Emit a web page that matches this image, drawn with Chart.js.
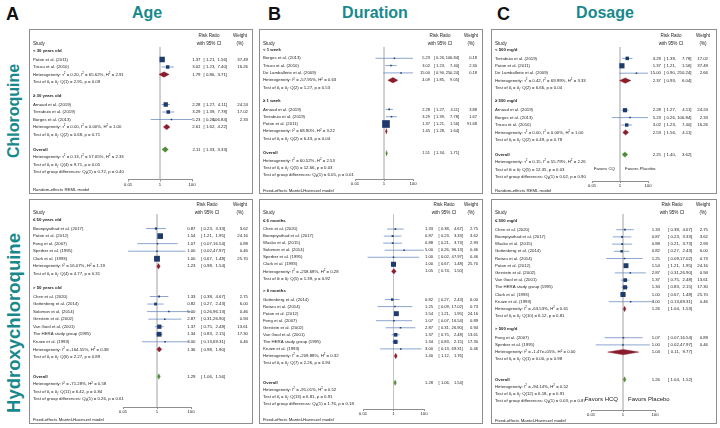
<!DOCTYPE html>
<html><head><meta charset="utf-8">
<script src="https://cdn.jsdelivr.net/npm/chart.js@4.4.0/dist/chart.umd.min.js"></script>
<style>
html,body{margin:0;padding:0;background:#fff;width:720px;height:428px;overflow:hidden;position:relative;font-family:"Liberation Sans",Arial,sans-serif;}
.letter{position:absolute;font-weight:bold;font-size:18px;line-height:18px;color:#111;}
.title{position:absolute;font-weight:bold;font-size:16px;line-height:16px;color:#17898c;transform:translateX(-50%);white-space:nowrap;}
.side{position:absolute;font-weight:bold;font-size:16px;line-height:16px;color:#17898c;transform:translate(-50%,-50%) rotate(-90deg);white-space:nowrap;}
canvas{position:absolute;}
</style></head><body>
<div class="letter" style="left:6px;top:5px">A</div>
<div class="title" style="left:147px;top:5px">Age</div>
<div class="letter" style="left:268px;top:5px">B</div>
<div class="title" style="left:375px;top:5px">Duration</div>
<div class="letter" style="left:497px;top:5px">C</div>
<div class="title" style="left:605px;top:5px">Dosage</div>
<div class="side" style="left:14px;top:111px">Chloroquine</div>
<div class="side" style="left:14px;top:323px;font-size:18.5px;line-height:18.5px">Hydroxychloroquine</div>
<canvas id="p1"></canvas><canvas id="p2"></canvas><canvas id="p3"></canvas>
<canvas id="p4"></canvas><canvas id="p5"></canvas><canvas id="p6"></canvas>
<script>
// ---------- shared axis ticks ----------
const tickValues = [0.01, 1, 100];
const tickLabels = ['0.01', '1', '100'];

// ---------- Chloroquine / Age ----------
const cqAgeStudy = ['Paton et al. (2011)', 'Tricou et al. (2010)', 'Arnaud et al. (2019)', 'Terrabuio et al. (2019)', 'Borges et al. (2013)'];
const cqAgeGroup = [0, 0, 1, 1, 1];
const cqAgeRR = [1.37, 3.02, 2.28, 3.29, 5.23];
const cqAgeLo = [1.21, 1.23, 1.27, 1.39, 0.26];
const cqAgeHi = [1.56, 7.40, 4.11, 7.78, 106.84];
const cqAgeWt = [37.49, 16.26, 24.24, 17.02, 2.33];
const cqAgeSub = ['< 30 years old', '\u2265 30 years old'];
const cqAgeSubRR = [1.79, 2.61];
const cqAgeSubLo = [0.86, 1.62];
const cqAgeSubHi = [3.71, 4.22];
const cqAgeSubHet = ['Heterogeneity: \u03c4^2 = 0.20, I^2 = 65.62%, H^2 = 2.91', 'Heterogeneity: \u03c4^2 = 0.00, I^2 = 0.00%, H^2 = 1.00'];
const cqAgeSubTest = ['Test of \u03b8_i = \u03b8_j: Q(1) = 2.91, p = 0.09', 'Test of \u03b8_i = \u03b8_j: Q(2) = 0.68, p = 0.71'];
const cqAgeOverall = [2.11, 1.33, 3.33];
const cqAgeOverallText = ['Heterogeneity: \u03c4^2 = 0.13, I^2 = 57.05%, H^2 = 2.33', 'Test of \u03b8_i = \u03b8_j: Q(4) = 9.71, p = 0.05', 'Test of group differences: Q_b(1) = 0.72, p = 0.40'];
const cqAgeModel = 'Random-effects REML model';

// ---------- Chloroquine / Duration ----------
const cqDurStudy = ['Borges et al. (2013)', 'Tricou et al. (2010)', 'De Lamballerie et al. (2009)', 'Arnaud et al. (2019)', 'Terrabuio et al. (2019)', 'Paton et al. (2011)'];
const cqDurGroup = [0, 0, 0, 1, 1, 1];
const cqDurRR = [5.23, 3.02, 15.00, 2.28, 3.29, 1.37];
const cqDurLo = [0.26, 1.23, 0.90, 1.27, 1.39, 1.21];
const cqDurHi = [106.84, 7.40, 250.24, 4.11, 7.78, 1.56];
const cqDurWt = [0.18, 2.30, 0.18, 3.88, 1.67, 91.68];
const cqDurSub = ['< 1 week', '\u2265 1 week'];
const cqDurSubRR = [4.09, 1.45];
const cqDurSubLo = [1.85, 1.28];
const cqDurSubHi = [9.05, 1.64];
const cqDurSubHet = ['Heterogeneity: I^2 = -57.95%, H^2 = 0.63', 'Heterogeneity: I^2 = 68.90%, H^2 = 3.22'];
const cqDurSubTest = ['Test of \u03b8_i = \u03b8_j: Q(2) = 1.27, p = 0.53', 'Test of \u03b8_i = \u03b8_j: Q(2) = 6.43, p = 0.04'];
const cqDurOverall = [1.51, 1.34, 1.71];
const cqDurOverallText = ['Heterogeneity: I^2 = 60.52%, H^2 = 2.53', 'Test of \u03b8_i = \u03b8_j: Q(5) = 12.66, p = 0.03', 'Test of group differences: Q_b(1) = 6.05, p = 0.01'];
const cqDurModel = 'Fixed-effects Mantel-Haenszel model';

// ---------- Chloroquine / Dosage ----------
const cqDoseStudy = ['Terrabuio et al. (2019)', 'Paton et al. (2011)', 'De Lamballerie et al. (2009)', 'Arnaud et al. (2019)', 'Borges et al. (2013)', 'Tricou et al. (2010)'];
const cqDoseGroup = [0, 0, 0, 1, 1, 1];
const cqDoseRR = [3.29, 1.37, 15.00, 2.28, 5.23, 3.02];
const cqDoseLo = [1.39, 1.21, 0.90, 1.27, 0.26, 1.23];
const cqDoseHi = [7.78, 1.56, 250.24, 4.11, 106.84, 7.40];
const cqDoseWt = [17.02, 37.49, 2.66, 24.24, 2.33, 16.26];
const cqDoseSub = ['< 500 mg/d', '\u2265 500 mg/d'];
const cqDoseSubRR = [2.37, 2.53];
const cqDoseSubLo = [0.93, 1.56];
const cqDoseSubHi = [6.04, 4.11];
const cqDoseSubHet = ['Heterogeneity: \u03c4^2 = 0.42, I^2 = 69.99%, H^2 = 3.33', 'Heterogeneity: \u03c4^2 = 0.00, I^2 = 0.00%, H^2 = 1.00'];
const cqDoseSubTest = ['Test of \u03b8_i = \u03b8_j: Q(2) = 6.66, p = 0.04', 'Test of \u03b8_i = \u03b8_j: Q(2) = 0.49, p = 0.78'];
const cqDoseOverall = [2.25, 1.40, 3.62];
const cqDoseOverallText = ['Heterogeneity: \u03c4^2 = 0.15, I^2 = 55.79%, H^2 = 2.26', 'Test of \u03b8_i = \u03b8_j: Q(5) = 12.35, p = 0.03', 'Test of group differences: Q_b(1) = 0.02, p = 0.90'];
const cqDoseModel = 'Random-effects REML model';
const cqDoseFavors = ['Favors CQ', 'Favors Placebo'];

// ---------- Hydroxychloroquine / Age ----------
const hcqAgeStudy = ['Boonpiyathad et al. (2017)', 'Paton et al. (2012)', 'Fong et al. (2007)', 'Sperber et al. (1995)', 'Clark et al. (1993)',
  'Chen et al. (2020)', 'Gottenberg et al. (2014)', 'Solomon et al. (2014)', 'Gerstein et al. (2002)', 'Van Gool et al. (2001)', 'The HERA study group (1995)', 'Kruize et al. (1993)'];
const hcqAgeGroup = [0, 0, 0, 0, 0, 1, 1, 1, 1, 1, 1, 1];
const hcqAgeRR = [0.87, 1.54, 1.07, 1.00, 1.00, 1.33, 0.82, 5.00, 2.87, 1.37, 1.34, 3.00];
const hcqAgeLo = [0.23, 1.21, 0.07, 0.02, 0.67, 0.38, 0.27, 0.26, 0.31, 0.75, 0.83, 0.13];
const hcqAgeHi = [3.33, 1.95, 16.54, 47.97, 1.48, 4.67, 2.43, 96.13, 26.90, 2.48, 2.15, 69.31];
const hcqAgeWt = [3.62, 24.16, 0.89, 0.46, 25.70, 2.75, 6.00, 0.46, 0.94, 13.61, 17.30, 0.46];
const hcqAgeSub = ['\u2264 50 years old', '> 50 years old'];
const hcqAgeSubRR = [1.23, 1.36];
const hcqAgeSubLo = [0.98, 0.98];
const hcqAgeSubHi = [1.54, 1.90];
const hcqAgeSubHet = ['Heterogeneity: I^2 = 16.07%, H^2 = 1.19', 'Heterogeneity: I^2 = -164.55%, H^2 = 0.38'];
const hcqAgeSubTest = ['Test of \u03b8_i = \u03b8_j: Q(4) = 4.77, p = 0.31', 'Test of \u03b8_i = \u03b8_j: Q(6) = 2.27, p = 0.89'];
const hcqAgeOverall = [1.29, 1.06, 1.56];
const hcqAgeOverallText = ['Heterogeneity: I^2 = -71.28%, H^2 = 0.58', 'Test of \u03b8_i = \u03b8_j: Q(11) = 6.42, p = 0.84', 'Test of group differences: Q_b(1) = 0.26, p = 0.61'];
const hcqAgeModel = 'Fixed-effects Mantel-Haenszel model';

// ---------- Hydroxychloroquine / Duration ----------
const hcqDurStudy = ['Chen et al. (2020)', 'Boonpiyathad et al. (2017)', 'Wasko et al. (2015)', 'Solomon et al. (2014)', 'Sperber et al. (1995)', 'Clark et al. (1993)',
  'Gottenberg et al. (2014)', 'Rotaru et al. (2014)', 'Paton et al. (2012)', 'Fong et al. (2007)', 'Gerstein et al. (2002)', 'Van Gool et al. (2001)', 'The HERA study group (1995)', 'Kruize et al. (1993)'];
const hcqDurGroup = [0, 0, 0, 0, 0, 0, 1, 1, 1, 1, 1, 1, 1, 1];
const hcqDurRR = [1.33, 0.87, 0.88, 5.00, 1.00, 1.00, 0.82, 1.25, 1.54, 1.07, 2.87, 1.37, 1.34, 3.00];
const hcqDurLo = [0.38, 0.23, 0.21, 0.26, 0.02, 0.67, 0.27, 0.09, 1.21, 0.07, 0.31, 0.75, 0.83, 0.13];
const hcqDurHi = [4.67, 3.33, 3.73, 96.13, 47.97, 1.48, 2.43, 17.02, 1.95, 16.54, 26.90, 2.48, 2.15, 69.31];
const hcqDurWt = [2.75, 3.62, 2.93, 0.46, 0.46, 25.70, 6.00, 0.73, 24.16, 0.89, 0.94, 13.61, 17.30, 0.46];
const hcqDurSub = ['\u2264 6 months', '> 6 months'];
const hcqDurSubRR = [1.05, 1.40];
const hcqDurSubLo = [0.74, 1.12];
const hcqDurSubHi = [1.50, 1.76];
const hcqDurSubHet = ['Heterogeneity: I^2 = -258.68%, H^2 = 0.28', 'Heterogeneity: I^2 = -209.88%, H^2 = 0.32'];
const hcqDurSubTest = ['Test of \u03b8_i = \u03b8_j: Q(5) = 1.39, p = 0.92', 'Test of \u03b8_i = \u03b8_j: Q(7) = 2.26, p = 0.94'];
const hcqDurOverall = [1.28, 1.06, 1.54];
const hcqDurOverallText = ['Heterogeneity: I^2 = -91.01%, H^2 = 0.52', 'Test of \u03b8_i = \u03b8_j: Q(13) = 6.81, p = 0.91', 'Test of group differences: Q_b(1) = 1.76, p = 0.18'];
const hcqDurModel = 'Fixed-effects Mantel-Haenszel model';

// ---------- Hydroxychloroquine / Dosage ----------
const hcqDoseStudy = ['Chen et al. (2020)', 'Boonpiyathad et al. (2017)', 'Wasko et al. (2015)', 'Gottenberg et al. (2014)', 'Rotaru et al. (2014)', 'Paton et al. (2012)',
  'Gerstein et al. (2002)', 'Van Gool et al. (2001)', 'The HERA study group (1995)', 'Clark et al. (1993)', 'Kruize et al. (1993)', 'Fong et al. (2007)', 'Sperber et al. (1995)'];
const hcqDoseGroup = [0, 0, 0, 0, 0, 0, 0, 0, 0, 0, 0, 1, 1];
const hcqDoseRR = [1.33, 0.87, 0.88, 0.82, 1.25, 1.54, 2.87, 1.37, 1.34, 1.00, 3.00, 1.07, 1.00];
const hcqDoseLo = [0.38, 0.23, 0.21, 0.27, 0.09, 1.21, 0.31, 0.75, 0.83, 0.67, 0.13, 0.07, 0.02];
const hcqDoseHi = [4.67, 3.33, 3.73, 2.43, 17.02, 1.95, 26.90, 2.48, 2.15, 1.48, 69.31, 16.54, 47.97];
const hcqDoseWt = [2.75, 3.62, 2.93, 6.00, 0.73, 24.16, 0.94, 13.61, 17.30, 25.70, 0.46, 0.89, 0.46];
const hcqDoseSub = ['\u2264 500 mg/d', '> 500 mg/d'];
const hcqDoseSubRR = [1.26, 1.04];
const hcqDoseSubLo = [1.04, 0.11];
const hcqDoseSubHi = [1.53, 9.77];
const hcqDoseSubHet = ['Heterogeneity: I^2 = -63.53%, H^2 = 0.61', 'Heterogeneity: I^2 = -1.47e+05%, H^2 = 0.00'];
const hcqDoseSubTest = ['Test of \u03b8_i = \u03b8_j: Q(10) = 6.12, p = 0.81', 'Test of \u03b8_i = \u03b8_j: Q(1) = 0.00, p = 0.98'];
const hcqDoseOverall = [1.26, 1.04, 1.52];
const hcqDoseOverallText = ['Heterogeneity: I^2 = -94.14%, H^2 = 0.52', 'Test of \u03b8_i = \u03b8_j: Q(12) = 6.18, p = 0.91', 'Test of group differences: Q_b(1) = 0.03, p = 0.87'];
const hcqDoseModel = 'Fixed-effects Mantel-Haenszel model';
const hcqDoseFavors = ['Favors HCQ', 'Favors Placebo'];

// ---------- drawing ----------
const FONT = '"Liberation Sans", Arial, sans-serif';
const TXT = '#1c1c1c';
const SQ = '#1d3b6c', CI = '#5a80ba', SUBD = '#8a1c2c', OVD = '#4f8a34', REF = '#c4c4c4';

function rich(ctx, s, x, y, size) {
  let cx = x, buf = '';
  const flush = () => { if (buf) { ctx.font = size + 'px ' + FONT; ctx.fillText(buf, cx, y); cx += ctx.measureText(buf).width; buf = ''; } };
  for (let k = 0; k < s.length; k++) {
    const c = s[k];
    if ((c === '^' || c === '_') && k + 1 < s.length) {
      flush();
      const t = s[k + 1]; k++;
      ctx.font = (size * 0.68) + 'px ' + FONT;
      ctx.fillText(t, cx, y + (c === '^' ? -size * 0.32 : size * 0.28));
      cx += ctx.measureText(t).width;
    } else buf += c;
  }
  flush();
}

function buildPanel(id, L, D) {
  const W = L.R - L.L, H = L.B - L.T;
  const cv = document.getElementById(id);
  cv.width = W; cv.height = H;
  cv.style.left = L.L + 'px'; cv.style.top = L.T + 'px';
  cv.style.width = W + 'px'; cv.style.height = H + 'px';
  const rows = []; let r = 0;
  D.sub.forEach((lab, g) => {
    rows.push({type: 'label', text: lab, row: r + L.labelShift}); r++;
    D.study.forEach((s, i) => { if (D.group[i] === g) { rows.push({type: 'study', i, row: r}); r++; } });
    rows.push({type: 'het', g, row: r}); r++;
    rows.push({type: 'test', g, row: r}); r++;
    r++;
  });
  r += L.overallGap;
  rows.push({type: 'overall', row: r}); r++;
  rows.push({type: 'otext', k: 0, row: r}); r++;
  rows.push({type: 'otext', k: 1, row: r}); r++;
  rows.push({type: 'otext', k: 2, row: r});
  const yMin = (L.refTop - L.y0) / L.step, yMax = (L.axisY - L.y0) / L.step;
  const dh = L.dh / L.step;

  const studyRows = rows.filter(o => o.type === 'study');
  const ciData = [];
  studyRows.forEach(o => { ciData.push({x: D.lo[o.i], y: o.row}, {x: D.hi[o.i], y: o.row}, {x: null, y: null}); });
  const sqData = studyRows.map(o => ({x: D.rr[o.i], y: o.row, w: D.wt[o.i]}));
  const datasets = [
    {type: 'scatter', showLine: true, data: [{x: 1, y: yMin}, {x: 1, y: yMax}], borderColor: REF, borderWidth: 0.8, pointRadius: 0, order: 10},
    {type: 'scatter', showLine: true, data: ciData, borderColor: CI, borderWidth: 0.7, pointRadius: 0, spanGaps: false, order: 5},
    {type: 'scatter', data: sqData, pointStyle: 'rect', backgroundColor: SQ, borderWidth: 0, order: 1,
      pointRadius: c => Math.max(1.5, L.k * Math.sqrt(c.raw.w)) / Math.SQRT2}
  ];
  const diamond = (rr, lo, hi, row, col) => ({
    type: 'scatter', showLine: true, fill: 'shape', backgroundColor: col, borderColor: col, borderWidth: 0.4, pointRadius: 0, order: 0,
    data: [{x: lo, y: row}, {x: rr, y: row - dh}, {x: hi, y: row}, {x: rr, y: row + dh}, {x: lo, y: row}]
  });
  rows.filter(o => o.type === 'het').forEach(o => datasets.push(diamond(D.subRR[o.g], D.subLo[o.g], D.subHi[o.g], o.row, SUBD)));
  const ov = rows.find(o => o.type === 'overall');
  datasets.push(diamond(D.overall[0], D.overall[1], D.overall[2], ov.row, OVD));

  const axisH = 9;
  const lx = v => v - L.L, ly = v => v - L.T;
  const fs = L.fs, hfs = L.hfs, vfs = L.vfs || L.fs;

  const txtPlugin = {
    id: 'txt_' + id,
    afterDraw(chart) {
      const ctx = chart.ctx, ys = chart.scales.y;
      const Y = row => ys.getPixelForValue(row);
      ctx.save();
      ctx.fillStyle = TXT; ctx.textBaseline = 'middle';
      ctx.font = hfs + 'px ' + FONT;
      ctx.textAlign = 'left'; ctx.fillText('Study', lx(L.L + L.tx), ly(L.hdrY2));
      ctx.textAlign = 'center';
      ctx.fillText('Risk Ratio', lx(L.hdrRR), ly(L.hdrY1));
      ctx.fillText('with 95% CI', lx(L.hdrRR), ly(L.hdrY2));
      ctx.fillText('Weight', lx(L.hdrW), ly(L.hdrY1));
      ctx.fillText('(%)', lx(L.hdrW), ly(L.hdrY2));
      const vals = (rr, lo, hi, y) => {
        ctx.font = vfs + 'px ' + FONT; ctx.textAlign = 'right';
        ctx.fillText(rr.toFixed(2), lx(L.estR), y);
        ctx.fillText('[ ' + lo.toFixed(2) + ',', lx(L.loR), y);
        ctx.fillText(hi.toFixed(2) + ']', lx(L.hiR), y);
      };
      const x0 = lx(L.L + L.tx);
      rows.forEach(o => {
        const y = Y(o.row);
        if (o.type === 'label' || o.type === 'overall') {
          ctx.font = 'bold ' + fs + 'px ' + FONT; ctx.textAlign = 'left';
          ctx.fillText(o.type === 'label' ? o.text : 'Overall', x0, y);
          if (o.type === 'overall') vals(D.overall[0], D.overall[1], D.overall[2], y);
        } else if (o.type === 'study') {
          ctx.font = fs + 'px ' + FONT; ctx.textAlign = 'left';
          ctx.fillText(D.study[o.i], x0, y);
          vals(D.rr[o.i], D.lo[o.i], D.hi[o.i], y);
          ctx.textAlign = 'right'; ctx.fillText(D.wt[o.i].toFixed(2), lx(L.wR), y);
        } else if (o.type === 'het') {
          ctx.textAlign = 'left'; rich(ctx, D.subHet[o.g], x0, y, fs);
          vals(D.subRR[o.g], D.subLo[o.g], D.subHi[o.g], y);
        } else if (o.type === 'test') {
          ctx.textAlign = 'left'; rich(ctx, D.subTest[o.g], x0, y, fs);
        } else if (o.type === 'otext') {
          ctx.textAlign = 'left'; rich(ctx, D.overallText[o.k], x0, y, fs);
        }
      });
      ctx.font = fs + 'px ' + FONT; ctx.textAlign = 'left';
      ctx.fillText(D.model, x0, ly(L.modelY));
      if (D.favors) {
        ctx.font = L.ffs + 'px ' + FONT;
        const xs = chart.scales.x;
        ctx.textAlign = 'right'; ctx.fillText(D.favors[0], xs.getPixelForValue(1) - L.fgap, ly(L.favorsY));
        ctx.textAlign = 'left'; ctx.fillText(D.favors[1], xs.getPixelForValue(1) + L.fgap, ly(L.favorsY));
      }
      ctx.strokeStyle = '#8d8d8d'; ctx.lineWidth = 1;
      ctx.strokeRect(0.5, 0.5, W - 1, H - 1);
      ctx.restore();
    }
  };

  new Chart(cv, {
    type: 'scatter',
    data: {datasets},
    options: {
      responsive: false, animation: false, events: [],
      layout: {padding: {left: L.x01 - L.L, right: L.R - L.x100, top: L.refTop - L.T, bottom: (L.B - L.axisY) - axisH}},
      plugins: {legend: {display: false}, tooltip: {enabled: false}},
      scales: {
        x: {type: 'logarithmic', min: tickValues[0], max: tickValues[tickValues.length - 1], position: 'bottom',
          afterBuildTicks: s => { s.ticks = tickValues.map(v => ({value: v})); },
          afterFit: s => { s.height = axisH; },
          ticks: {callback: (v) => tickLabels[tickValues.indexOf(v)] ?? '', font: {size: fs, family: FONT}, color: TXT, padding: 0.5, maxRotation: 0, autoSkip: false},
          grid: {display: true, drawOnChartArea: false, drawTicks: true, tickLength: 2, color: '#444', lineWidth: 0.6},
          border: {display: true, color: '#444', width: 0.6}},
        y: {type: 'linear', display: false, min: yMin, max: yMax, reverse: true}
      }
    },
    plugins: [txtPlugin]
  });
}

const base = {tx: 4, fs: 4.3, hfs: 4.6, dh: 2.7, labelShift: -0.2, overallGap: 0};
buildPanel('p1', Object.assign({}, base, {L: 29, T: 29, R: 253, B: 194, y0: 52, step: 7.5, refTop: 47, axisY: 179.5, x01: 128, x100: 192,
  estR: 200.5, loR: 215.5, hiR: 227, wR: 248, hdrRR: 209, hdrW: 240, hdrY1: 36, hdrY2: 44, modelY: 190, k: 0.87}),
  {study: cqAgeStudy, group: cqAgeGroup, rr: cqAgeRR, lo: cqAgeLo, hi: cqAgeHi, wt: cqAgeWt, sub: cqAgeSub, subRR: cqAgeSubRR, subLo: cqAgeSubLo, subHi: cqAgeSubHi,
   subHet: cqAgeSubHet, subTest: cqAgeSubTest, overall: cqAgeOverall, overallText: cqAgeOverallText, model: cqAgeModel});
buildPanel('p2', Object.assign({}, base, {L: 259, T: 29, R: 483, B: 194, y0: 51, step: 7.3, refTop: 47, axisY: 179, x01: 355, x100: 413,
  estR: 430, loR: 445, hiR: 459, wR: 477, hdrRR: 440, hdrW: 471, hdrY1: 36, hdrY2: 44, modelY: 191, k: 0.8, vfs: 4.0}),
  {study: cqDurStudy, group: cqDurGroup, rr: cqDurRR, lo: cqDurLo, hi: cqDurHi, wt: cqDurWt, sub: cqDurSub, subRR: cqDurSubRR, subLo: cqDurSubLo, subHi: cqDurSubHi,
   subHet: cqDurSubHet, subTest: cqDurSubTest, overall: cqDurOverall, overallText: cqDurOverallText, model: cqDurModel});
buildPanel('p3', Object.assign({}, base, {L: 491, T: 29, R: 717, B: 194, y0: 51, step: 7.4, refTop: 47, axisY: 181, x01: 592, x100: 648,
  estR: 661, loR: 676, hiR: 691.5, wR: 708, hdrRR: 671, hdrW: 703, hdrY1: 36, hdrY2: 44, modelY: 191, k: 0.85, favorsY: 169, ffs: 4.4, fgap: 5}),
  {study: cqDoseStudy, group: cqDoseGroup, rr: cqDoseRR, lo: cqDoseLo, hi: cqDoseHi, wt: cqDoseWt, sub: cqDoseSub, subRR: cqDoseSubRR, subLo: cqDoseSubLo, subHi: cqDoseSubHi,
   subHet: cqDoseSubHet, subTest: cqDoseSubTest, overall: cqDoseOverall, overallText: cqDoseOverallText, model: cqDoseModel, favors: cqDoseFavors});
buildPanel('p4', Object.assign({}, base, {L: 29, T: 199, R: 253, B: 424, y0: 221, step: 7.55, refTop: 214, axisY: 407, x01: 123, x100: 191,
  estR: 195.5, loR: 213, hiR: 225, wR: 248, hdrRR: 207, hdrW: 240, hdrY1: 205, hdrY2: 213, modelY: 420, k: 1.15, overallGap: 0.6}),
  {study: hcqAgeStudy, group: hcqAgeGroup, rr: hcqAgeRR, lo: hcqAgeLo, hi: hcqAgeHi, wt: hcqAgeWt, sub: hcqAgeSub, subRR: hcqAgeSubRR, subLo: hcqAgeSubLo, subHi: hcqAgeSubHi,
   subHet: hcqAgeSubHet, subTest: hcqAgeSubTest, overall: hcqAgeOverall, overallText: hcqAgeOverallText, model: hcqAgeModel});
buildPanel('p5', Object.assign({}, base, {L: 259, T: 199, R: 483, B: 424, y0: 222, step: 7.05, refTop: 214, axisY: 409, x01: 363, x100: 424,
  estR: 433, loR: 450, hiR: 463, wR: 478, hdrRR: 444, hdrW: 471, hdrY1: 205, hdrY2: 213, modelY: 420, k: 1.0, overallGap: 0.8, vfs: 4.1}),
  {study: hcqDurStudy, group: hcqDurGroup, rr: hcqDurRR, lo: hcqDurLo, hi: hcqDurHi, wt: hcqDurWt, sub: hcqDurSub, subRR: hcqDurSubRR, subLo: hcqDurSubLo, subHi: hcqDurSubHi,
   subHet: hcqDurSubHet, subTest: hcqDurSubTest, overall: hcqDurOverall, overallText: hcqDurOverallText, model: hcqDurModel});
buildPanel('p6', Object.assign({}, base, {L: 491, T: 199, R: 717, B: 424, y0: 222.5, step: 7.2, refTop: 214, axisY: 410, x01: 591, x100: 655,
  estR: 660, loR: 680, hiR: 692, wR: 708, hdrRR: 672, hdrW: 703, hdrY1: 205, hdrY2: 213, modelY: 421, k: 1.0, overallGap: 0.8, favorsY: 399, ffs: 6, fgap: 5}),
  {study: hcqDoseStudy, group: hcqDoseGroup, rr: hcqDoseRR, lo: hcqDoseLo, hi: hcqDoseHi, wt: hcqDoseWt, sub: hcqDoseSub, subRR: hcqDoseSubRR, subLo: hcqDoseSubLo, subHi: hcqDoseSubHi,
   subHet: hcqDoseSubHet, subTest: hcqDoseSubTest, overall: hcqDoseOverall, overallText: hcqDoseOverallText, model: hcqDoseModel, favors: hcqDoseFavors});
</script>
</body></html>
